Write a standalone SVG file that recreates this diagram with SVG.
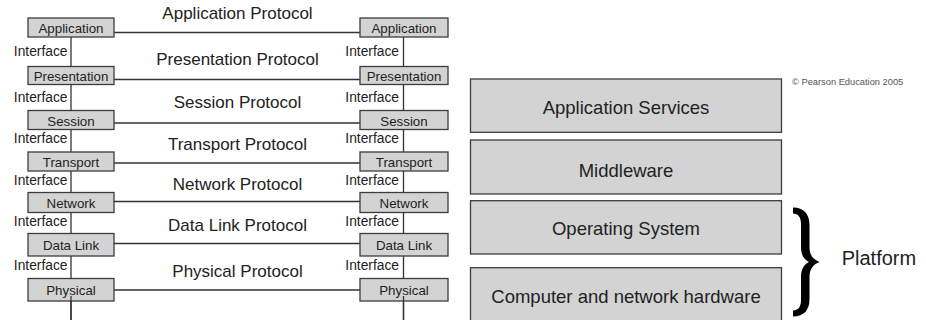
<svg xmlns="http://www.w3.org/2000/svg" width="926" height="320" viewBox="0 0 926 320">
  <style>
    .box { fill: #d3d3d3; stroke: #3c3c3c; stroke-width: 1.3; }
    .wire { stroke: #333; stroke-width: 1.3; fill: none; }
    text { font-family: "Liberation Sans", Arial, sans-serif; fill: #222; }
    .lbl { font-size: 13.3px; text-anchor: middle; }
    .ifc { font-size: 13.8px; text-anchor: end; }
    .proto { font-size: 17px; text-anchor: middle; }
    .big { font-size: 18.5px; text-anchor: middle; }
  </style>

  <!-- connectors: protocol lines between peer layers, interface lines down each stack -->
  <g id="connectors">
    <line class="wire" x1="114" y1="32.5" x2="360" y2="32.5"/>
    <line class="wire" x1="114" y1="79.5" x2="360" y2="79.5"/>
    <line class="wire" x1="114" y1="123" x2="360" y2="123"/>
    <line class="wire" x1="114" y1="163" x2="360" y2="163"/>
    <line class="wire" x1="114" y1="201.5" x2="360" y2="201.5"/>
    <line class="wire" x1="114" y1="243.5" x2="360" y2="243.5"/>
    <line class="wire" x1="114" y1="290" x2="360" y2="290"/>
    <line class="wire" x1="71" y1="36" x2="71" y2="320"/>
    <line class="wire" x1="403.5" y1="36" x2="403.5" y2="320"/>
  </g>

  <!-- left stack -->
  <g id="l-application"><rect class="box" x="28" y="18" width="86" height="19"/><text class="lbl" x="71" y="33">Application</text></g>
  <g id="l-presentation"><rect class="box" x="28" y="66.5" width="86" height="18"/><text class="lbl" x="71" y="81">Presentation</text></g>
  <g id="l-session"><rect class="box" x="28" y="110.5" width="86" height="19"/><text class="lbl" x="71" y="125.5">Session</text></g>
  <g id="l-transport"><rect class="box" x="28" y="152" width="86" height="19"/><text class="lbl" x="71" y="167">Transport</text></g>
  <g id="l-network"><rect class="box" x="28" y="192.5" width="86" height="20"/><text class="lbl" x="71" y="207.5">Network</text></g>
  <g id="l-datalink"><rect class="box" x="28" y="233.5" width="86" height="22.5"/><text class="lbl" x="71" y="250">Data Link</text></g>
  <g id="l-physical"><rect class="box" x="28" y="278.5" width="86" height="22.5"/><text class="lbl" x="71" y="295">Physical</text></g>

  <!-- right stack -->
  <g id="r-application"><rect class="box" x="360" y="18" width="88" height="19"/><text class="lbl" x="404" y="33">Application</text></g>
  <g id="r-presentation"><rect class="box" x="360" y="66.5" width="88" height="18"/><text class="lbl" x="404" y="81">Presentation</text></g>
  <g id="r-session"><rect class="box" x="360" y="110.5" width="88" height="19"/><text class="lbl" x="404" y="125.5">Session</text></g>
  <g id="r-transport"><rect class="box" x="360" y="152" width="88" height="19"/><text class="lbl" x="404" y="167">Transport</text></g>
  <g id="r-network"><rect class="box" x="360" y="192.5" width="88" height="20"/><text class="lbl" x="404" y="207.5">Network</text></g>
  <g id="r-datalink"><rect class="box" x="360" y="233.5" width="88" height="22.5"/><text class="lbl" x="404" y="250">Data Link</text></g>
  <g id="r-physical"><rect class="box" x="360" y="278.5" width="88" height="22.5"/><text class="lbl" x="404" y="295">Physical</text></g>

  <!-- stems continuing below the physical layers -->
  <line class="wire" x1="71" y1="296" x2="71" y2="320"/>
  <line class="wire" x1="403.5" y1="296" x2="403.5" y2="320"/>

  <!-- interface labels -->
  <g id="interfaces">
    <text class="ifc" x="67.5" y="56">Interface</text>
    <text class="ifc" x="67.5" y="102">Interface</text>
    <text class="ifc" x="67.5" y="143">Interface</text>
    <text class="ifc" x="67.5" y="185">Interface</text>
    <text class="ifc" x="67.5" y="226">Interface</text>
    <text class="ifc" x="67.5" y="270">Interface</text>
    <text class="ifc" x="399" y="56">Interface</text>
    <text class="ifc" x="399" y="102">Interface</text>
    <text class="ifc" x="399" y="143">Interface</text>
    <text class="ifc" x="399" y="185">Interface</text>
    <text class="ifc" x="399" y="226">Interface</text>
    <text class="ifc" x="399" y="270">Interface</text>
  </g>

  <!-- protocol labels -->
  <g id="protocols">
    <text class="proto" x="237.5" y="19">Application Protocol</text>
    <text class="proto" x="237.5" y="65">Presentation Protocol</text>
    <text class="proto" x="237.5" y="108">Session Protocol</text>
    <text class="proto" x="237.5" y="149.5">Transport Protocol</text>
    <text class="proto" x="237.5" y="190">Network Protocol</text>
    <text class="proto" x="237.5" y="231">Data Link Protocol</text>
    <text class="proto" x="237.5" y="277">Physical Protocol</text>
  </g>

  <!-- platform layering -->
  <g id="app-services"><rect class="box" x="470.5" y="79" width="311" height="53.3"/><text class="big" x="626" y="113.5">Application Services</text></g>
  <g id="middleware"><rect class="box" x="470.5" y="140" width="311" height="54"/><text class="big" x="626" y="176.5">Middleware</text></g>
  <g id="os"><rect class="box" x="470.5" y="200.7" width="311" height="53.3"/><text class="big" x="626" y="235">Operating System</text></g>
  <g id="hardware"><rect class="box" x="470.5" y="267.7" width="311" height="60"/><text class="big" x="626" y="302.5">Computer and network hardware</text></g>

  <g id="platform">
    <path fill="#000" d="M793 207.5 C804 207.5 809.5 214 809.5 225 L809.5 247 C809.5 255 813 259.5 819.5 262 C813 264.5 809.5 269 809.5 277 L809.5 299 C809.5 310 804 316.5 793 316.5 L793 310.5 C798 310.5 801 307 801 300 L801 277 C801 269 804 264.5 809 262 C804 259.5 801 255 801 247 L801 224 C801 217 798 213.5 793 213.5 Z"/>
    <text x="841.7" y="265" style="font-size:20px">Platform</text>
  </g>

  <text x="792" y="85" style="font-size:9.3px;fill:#555">© Pearson Education 2005</text>
</svg>
